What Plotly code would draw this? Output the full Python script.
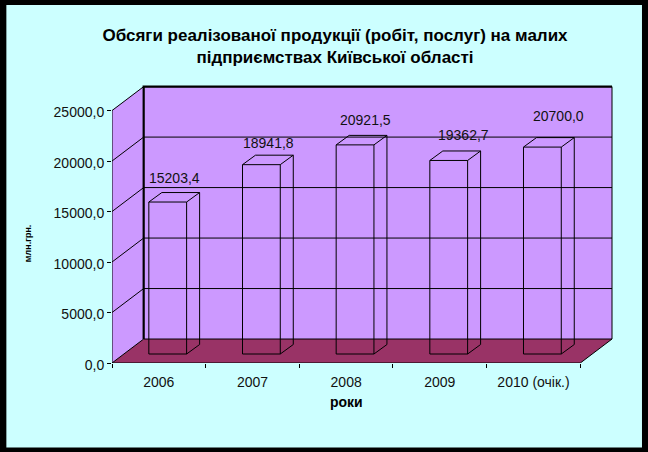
import plotly.graph_objects as go

# ---- data ----
categories = ["2006", "2007", "2008", "2009", "2010 (очік.)"]
values = [15203.4, 18941.8, 20921.5, 19362.7, 20700.0]
value_labels = ["15203,4", "18941,8", "20921,5", "19362,7", "20700,0"]
y_ticks = [0, 5000, 10000, 15000, 20000, 25000]
y_tick_labels = ["0,0", "5000,0", "10000,0", "15000,0", "20000,0", "25000,0"]
title_text = "Обсяги реалізованої продукції (робіт, послуг) на малих<br>підприємствах Київської області"
x_title = "роки"
y_title = "млн.грн."

# ---- geometry (pixels of the 648x452 page) ----
W, H = 648, 452
X0_PX, CAT_PX = 111.7, 93.72      # front-plane origin and width of one category
Y0_PX, UNIT_PX = 363.3, 252.7 / 25000
RIGHT_PX, TOP_PX = 613.0, 85.0
XMAX = (RIGHT_PX - X0_PX) / CAT_PX
YMAX = (Y0_PX - TOP_PX) / UNIT_PX
N = len(categories)

WALL_DX = 31.7 / CAT_PX           # depth shift of the back wall, axis units
WALL_DY = 24.0 / UNIT_PX
BAR_FRONT_DY = 9.0 / UNIT_PX      # the bars stand on a plane inside the floor
BAR_DX = 13.0 / CAT_PX
BAR_DY = 9.5 / UNIT_PX
BAR_CENTER = 0.5 + 8.9 / CAT_PX
BAR_HALF = 18.9 / CAT_PX
BAR_SCALE = 0.99
LABEL_SHIFT = [(7, 15), (7, 12), (10, 15), (15, 16), (16, 22)]  # pixels

WALL = "#CC99FF"
FLOOR = "#993366"
BG = "#CCFFFF"
INK = "#111111"
FONT = "Liberation Sans, Arial, sans-serif"

fig = go.Figure()


def poly(xs, ys, fill):
    fig.add_trace(go.Scatter(x=xs, y=ys, mode="lines", fill="toself", fillcolor=fill,
                             line=dict(width=0), hoverinfo="skip", showlegend=False,
                             cliponaxis=False))


def line(xs, ys, width=1.0):
    fig.add_trace(go.Scatter(x=xs, y=ys, mode="lines", line=dict(color="black", width=width),
                             hoverinfo="skip", showlegend=False, cliponaxis=False))


# walls and floor
poly([WALL_DX, N + WALL_DX, N + WALL_DX, WALL_DX], [WALL_DY, WALL_DY, 25000 + WALL_DY, 25000 + WALL_DY], WALL)
poly([0, WALL_DX, WALL_DX, 0], [0, WALL_DY, 25000 + WALL_DY, 25000], WALL)
poly([0, N, N + WALL_DX, WALL_DX], [0, 0, WALL_DY, WALL_DY], FLOOR)

# gridlines on both walls
for t in y_ticks:
    line([0, WALL_DX, N + WALL_DX], [t, t + WALL_DY, t + WALL_DY])
line([0, 0], [0, 25000])
line([N + WALL_DX, N + WALL_DX], [WALL_DY, 25000 + WALL_DY])
line([0, N, N + WALL_DX], [0, 0, WALL_DY])
line([WALL_DX, WALL_DX, N + WALL_DX], [WALL_DY, 25000 + WALL_DY, 25000 + WALL_DY], 2.2)

# wire-frame bars
for i, v in enumerate(values):
    l, r = i + BAR_CENTER - BAR_HALF, i + BAR_CENTER + BAR_HALF
    base = BAR_FRONT_DY
    top = base + v * BAR_SCALE
    line([l, r, r, l, l], [base, base, top, top, base])
    line([l, l + BAR_DX, r + BAR_DX, r], [top, top + BAR_DY, top + BAR_DY, top])
    line([r + BAR_DX, r + BAR_DX, r], [top + BAR_DY, base + BAR_DY, base])

annotations = []
for i, v in enumerate(values):
    dx, dy = LABEL_SHIFT[i]
    annotations.append(dict(x=i + BAR_CENTER, y=BAR_FRONT_DY + v * BAR_SCALE + BAR_DY,
                            xref="x", yref="y", text=value_labels[i], showarrow=False,
                            xshift=dx, yshift=dy, font=dict(size=14, color=INK, family=FONT)))

plot_w = RIGHT_PX - X0_PX
plot_h = Y0_PX - TOP_PX
annotations.append(dict(x=N / 2, y=(Y0_PX - 402.5) / plot_h, xref="x", yref="paper", text=x_title,
                        xanchor="center", yanchor="middle", showarrow=False,
                        font=dict(size=14, color="black", family=FONT, weight="bold")))
annotations.append(dict(x=(27 - X0_PX) / plot_w, y=(Y0_PX - 243) / plot_h, xref="paper", yref="paper",
                        text=y_title, textangle=-90, xanchor="center", yanchor="middle", showarrow=False,
                        font=dict(size=9, color="black", family=FONT, weight="bold")))

fig.update_layout(
    width=W, height=H, autosize=False,
    margin=dict(l=X0_PX, r=W - RIGHT_PX, t=TOP_PX, b=H - Y0_PX, pad=0),
    paper_bgcolor="black", plot_bgcolor="rgba(0,0,0,0)",
    showlegend=False,
    title=dict(text=title_text, x=335 / W, xanchor="center", y=1 - 41 / H, yanchor="middle",
               font=dict(size=17, color="black", family=FONT, weight="bold")),
    xaxis=dict(range=[0, XMAX], showgrid=False, zeroline=False, showline=False,
               tickmode="array", tickvals=[i + 0.5 for i in range(N)], ticktext=categories,
               ticks="", ticklabelstandoff=9, tickfont=dict(size=14, color=INK, family=FONT),
               minor=dict(tickmode="array", tickvals=list(range(N + 1)), ticks="outside",
                          ticklen=4, tickcolor="black", tickwidth=1, showgrid=False)),
    yaxis=dict(range=[0, YMAX], showgrid=False, zeroline=False, showline=False,
               tickmode="array", tickvals=y_ticks, ticktext=y_tick_labels,
               ticks="outside", ticklen=4, tickcolor="black", tickwidth=1, ticklabelshift=2,
               tickfont=dict(size=14, color=INK, family=FONT)),
    annotations=annotations,
    shapes=[dict(type="rect", xref="paper", yref="paper", layer="below", line=dict(width=0),
                 fillcolor=BG, x0=(6 - X0_PX) / plot_w, x1=(642 - X0_PX) / plot_w,
                 y0=(Y0_PX - 448) / plot_h, y1=(Y0_PX - 5) / plot_h)],
)

fig.write_html("out.html", config=dict(displayModeBar=False),
               post_script="document.body.style.margin='0';document.body.style.overflow='hidden';")
